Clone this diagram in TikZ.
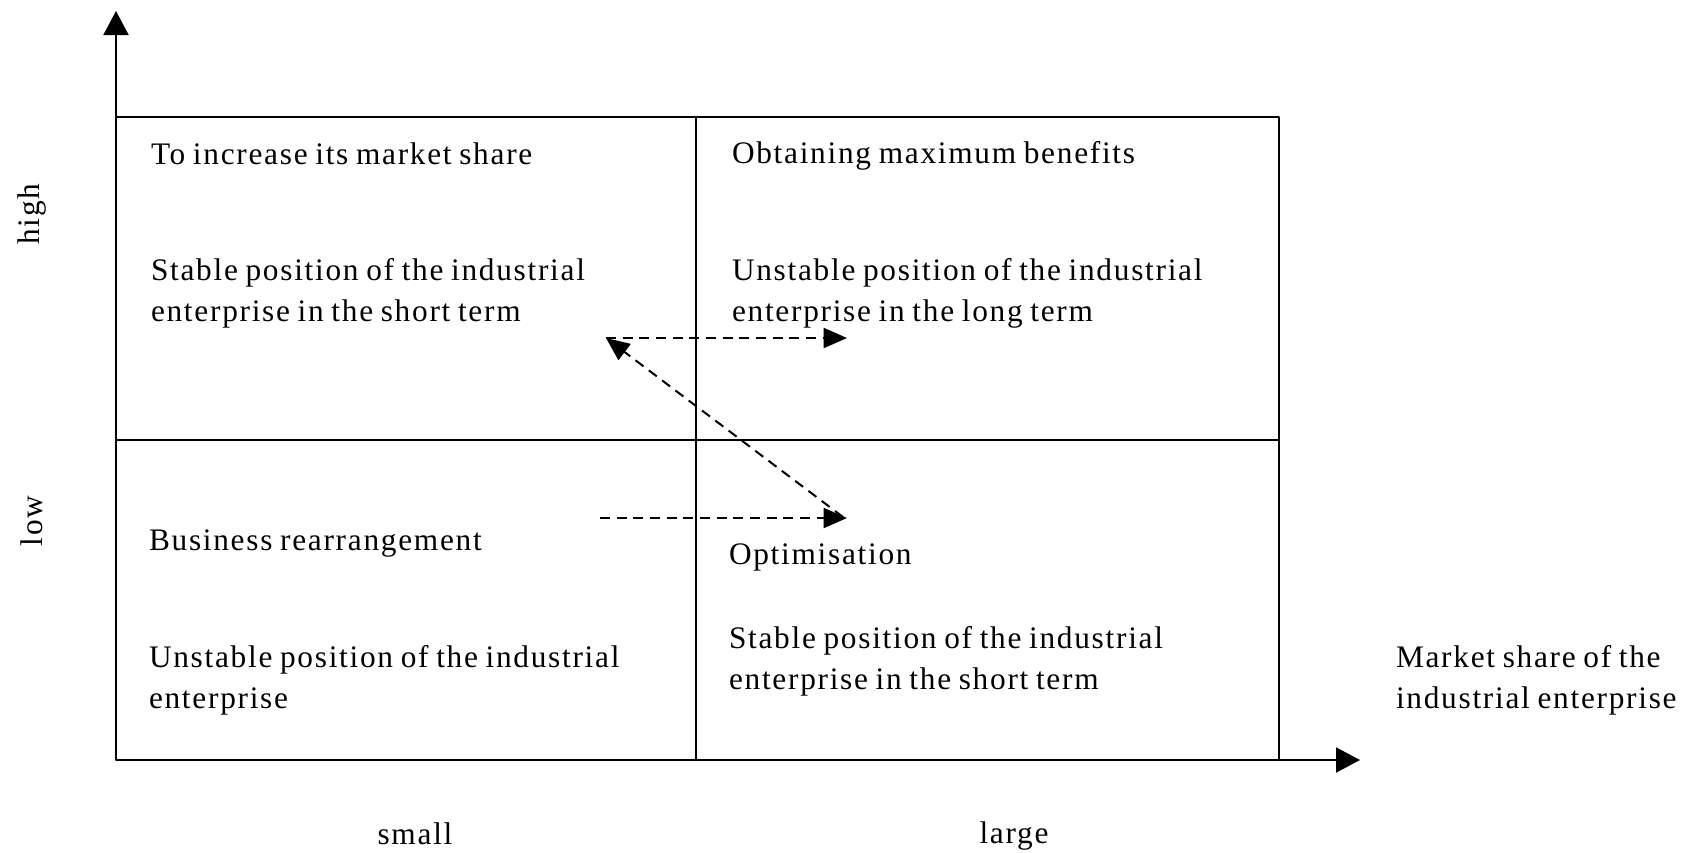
\documentclass[tikz,border=0pt]{standalone}
\usepackage{fontspec}
\setmainfont{Liberation Serif}[LetterSpace=5.5,WordSpace=0.8]
\usetikzlibrary{arrows.meta}
\begin{document}
\begin{tikzpicture}[x=0.3pt, y=-0.3pt, font=\fontsize{9.4}{12.3}\selectfont, line width=0.6pt, line join=round,
  >={Triangle[length=7.2pt,width=7.5pt]},
  txt/.style={anchor=west, inner sep=0pt, align=left},
  flow/.style={dash pattern=on 3pt off 2pt, -{Triangle[length=7pt,width=6pt]}}]
 \useasboundingbox (0,0) rectangle (1692,852);
 % axes and grid
 \coordinate (o) at (116,760);
 \draw[->] (o)--(116,11);
 \draw[->] (o)--(1360,760);
 \draw (116,117) rectangle (1279,760) (116,440)--(1279,440) (696,117)--(696,760);
 % quadrants
 \node[txt] (q1a) at (150,154) {To increase its market share};
 \node[txt] (q1b) at (150,293) {Stable position of the industrial\\enterprise in the short term};
 \node[txt] (q2a) at (731,156) {Obtaining maximum benefits};
 \node[txt] (q2b) at (731,293) {Unstable position of the industrial\\enterprise in the long term};
 \node[txt] (q3a) at (148,543) {Business rearrangement};
 \node[txt] (q3b) at (148,680) {Unstable position of the industrial\\enterprise};
 \node[txt] (q4a) at (728,557) {Optimisation};
 \node[txt] (q4b) at (728,661) {Stable position of the industrial\\enterprise in the short term};
 \node[txt] (xlab) at (1395,680) {Market share of the\\industrial enterprise};
 \node (small) at (415,834) {small};
 \node (large) at (1014,836) {large};
 \node[rotate=90] (high) at (32,214) {high};
 \node[rotate=90] (low) at (32,521) {low};
 % moves between quadrants
 \coordinate (a1) at (606,338); \coordinate (a2) at (847,338);
 \coordinate (b1) at (600,518); \coordinate (b2) at (847,518);
 \draw[flow] (a1)--(a2);
 \draw[flow] (b1)--(b2);
 \draw[flow] (843,517)--(a1);
\end{tikzpicture}
\end{document}
